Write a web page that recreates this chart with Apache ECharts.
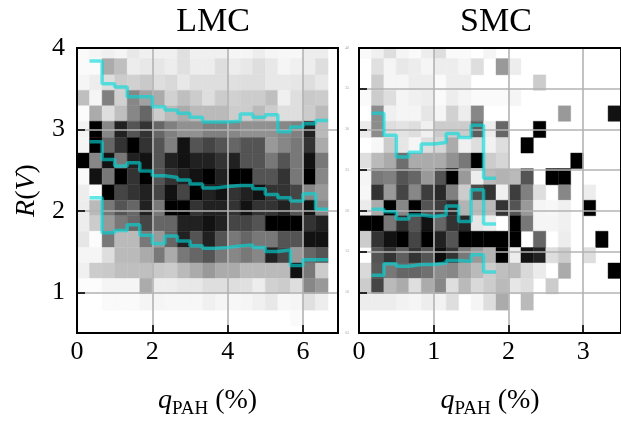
<!DOCTYPE html>
<html>
<head>
<meta charset="utf-8">
<script src="https://cdn.jsdelivr.net/npm/echarts@6/dist/echarts.min.js"></script>
<style>
  html, body { margin: 0; padding: 0; background: #fff; }
  #chart { width: 621px; height: 424px; }
</style>
</head>
<body>
<div id="chart"></div>
<script>
// MARK: - Data

// R(V) bin edges, shared by both panels
const rvEdges = [0.59, 0.78, 0.98, 1.17, 1.36, 1.55, 1.75, 1.94, 2.13, 2.32,
                 2.52, 2.71, 2.90, 3.10, 3.29, 3.48, 3.67, 3.87, 4.06];

// q_PAH bin edges
const lmcQEdges = [0, 0.333, 0.667, 1, 1.333, 1.667, 2, 2.333, 2.667, 3, 3.333,
                   3.667, 4, 4.333, 4.667, 5, 5.333, 5.667, 6, 6.333, 6.667];
const smcQEdges = [0, 0.167, 0.333, 0.5, 0.667, 0.833, 1, 1.167, 1.333, 1.5, 1.667,
                   1.833, 2, 2.167, 2.333, 2.5, 2.667, 2.833, 3, 3.167, 3.333, 3.5];

// normalised density (0 = white, 10 = black), top row first
const lmcDensity = [
    [0.2, 0.4, 0.6, 0.4, 0.9, 0.6, 0.6, 0.6, 1.2, 0.6, 0.6, 0.6, 0.4, 0.4, 0.7, 0.4, 0.3, 0.3, 0.7, 0.7],
    [0.2, 0.2, 3.3, 2.5, 0.7, 0.9, 1, 0.7, 1.2, 0.7, 0.7, 1.3, 0.7, 0.9, 1.3, 0.9, 0.4, 0.6, 0.7, 1.3],
    [0.4, 0.7, 1.3, 2, 1.8, 2.1, 1.3, 1.5, 0.9, 1.3, 1.3, 1.3, 1.2, 1.3, 1.3, 0.9, 0.9, 1, 1.3, 0.9],
    [2.5, 0.4, 5, 1.8, 4.7, 3.7, 3.3, 1.8, 2.5, 2, 1.3, 2, 1.8, 2, 2, 2.5, 0.6, 1.3, 2.1, 2],
    [0.1, 3.3, 1.3, 2.5, 4.7, 6, 2, 2.7, 3.3, 2.7, 2.7, 2.7, 2, 2, 2.7, 2, 1.3, 1.3, 2, 2.7],
    [0.5, 10, 4.7, 8.7, 6.7, 8, 6, 5, 4.3, 4.3, 5, 5, 4.7, 4.3, 4.3, 4.3, 4.7, 5, 8.7, 2.7],
    [0.4, 10, 6, 8, 10, 8, 6.7, 5, 9.3, 6.7, 7.3, 6.7, 6, 6.7, 6.7, 4, 4.7, 5.3, 8, 3.3],
    [10, 4.7, 9.3, 5.3, 8.7, 9.3, 6.7, 8.7, 9.3, 8.7, 8.7, 8, 8.7, 6.7, 6.7, 5.3, 6.7, 5.3, 9.3, 5.3],
    [0.2, 9.3, 5.3, 10, 8, 10, 6.7, 8, 8.7, 9.3, 10, 8.7, 10, 10, 6.7, 6.7, 8, 5.3, 10, 4.7],
    [0.7, 0.1, 10, 7.3, 8, 8.7, 7.3, 9.3, 7.3, 10, 8.7, 9.3, 8, 8.7, 9.3, 8, 8, 7.3, 4.7, 4],
    [0.7, 2.7, 5.3, 6.7, 6, 8.7, 5.3, 10, 10, 8, 8.7, 8.7, 8, 9.3, 8, 8, 8.7, 6.7, 9.3, 4.7],
    [0.7, 2, 4, 5.3, 6, 7.3, 6, 6, 8.7, 8.7, 9.3, 8.7, 7.3, 7.3, 6.7, 10, 10, 10, 8, 8.7],
    [1, 0.1, 5.3, 2.7, 2.7, 5.3, 4, 6, 8.7, 6.7, 8.7, 6.7, 5.3, 6, 5.3, 5.3, 6.7, 6.7, 9.3, 9.3],
    [0.4, 0.4, 1.3, 2.7, 2.7, 3.3, 5.3, 3.3, 5.3, 6, 6.7, 5.3, 4.7, 5.3, 4.7, 8.7, 7.3, 4, 6, 6.7],
    [0.6, 2, 2.1, 2.5, 2.5, 2.5, 2.1, 2, 2.7, 3.3, 4, 3.3, 3.3, 2.7, 2.7, 2.7, 2.7, 9.3, 5.3, 2],
    [0.1, 0.1, 0.4, 0.4, 0.4, 3.3, 0.7, 0.7, 0.9, 0.9, 1.3, 1.3, 1.3, 1.2, 0.7, 1.8, 2, 1.3, 4.7, 4],
    [0, 0, 0.2, 0.2, 0.2, 0.4, 0.4, 0.3, 0.3, 0.3, 0.6, 0.4, 0.3, 0.4, 0.6, 0.9, 0.3, 0.4, 1.2, 0.7],
    [0, 0, 0, 0, 0, 0, 0, 0, 0, 0, 0, 0, 0, 0, 0, 0, 0, 0.2, 0, 0]
];

const smcDensity = [
    [0.2, 0.6, 1.3, 0.4, 0.2, 0.7, 1.3, 0.2, 0.2, 0, 0.4, 0, 0, 0, 0, 0, 0, 0, 0, 0, 0],
    [0, 1.2, 0.4, 0.9, 0.7, 0.4, 0.7, 0.7, 0.4, 1.3, 0, 4, 0.7, 0, 0, 0, 0, 0, 0, 0, 0],
    [0, 2, 0.4, 0.4, 0.7, 0.7, 0.2, 0.7, 0.7, 0, 0, 0, 0, 0, 2, 0, 0, 0, 0, 0, 0],
    [0.2, 2, 1.3, 0.4, 0.6, 0.7, 0.2, 0.7, 0.4, 0.2, 0.2, 0.2, 0.4, 0, 0, 0, 0, 0, 0, 0, 0],
    [0, 4.5, 0.6, 0.4, 0.4, 1, 0.4, 1.8, 0.7, 4.7, 0, 0, 0, 0, 0, 0, 4, 0, 0, 0, 9.3],
    [0.8, 4.5, 1.3, 1.1, 1.3, 0.6, 2, 2, 2, 6.3, 0.7, 6, 0, 0, 10, 0, 0, 0, 0, 0, 0],
    [0, 0.3, 2, 1, 0.4, 1.3, 1.6, 3.3, 0.6, 1.3, 0.5, 1.3, 0, 10, 0, 0, 0, 0, 0, 0, 0],
    [1.3, 2.7, 3.3, 5.7, 3.3, 3.3, 3.3, 4.3, 5.3, 10, 2, 1.6, 0, 0, 0, 0, 0, 10, 0, 0, 0],
    [0.4, 5.3, 5, 6.7, 6, 4, 6.7, 10, 4, 0.7, 2.7, 3, 2.7, 6.7, 0, 10, 10, 0, 0, 0, 0],
    [0.3, 8, 4, 7.3, 4.7, 7.6, 8.4, 5, 2, 7, 8, 0.6, 7.6, 5, 1.3, 0, 4.7, 0, 0.7, 0, 0],
    [0.8, 3.3, 10, 4.7, 10, 6.7, 7.6, 8.4, 3, 2.7, 2.7, 8, 6.7, 4, 0.4, 0.3, 0.6, 0, 10, 0, 0],
    [10, 10, 5.3, 8.2, 6.7, 9.3, 6, 8, 8.4, 1, 0.7, 0, 10, 5.3, 0.4, 0.4, 0.6, 0, 0, 0, 0],
    [2, 8, 9.3, 10, 7.3, 10, 8.7, 6.7, 10, 10, 10, 10, 10, 0, 6, 0, 0.7, 0, 0, 10, 0],
    [0, 6.7, 8, 6.3, 8, 6.7, 9.5, 8, 5.3, 4, 3, 10, 0.7, 9.3, 8.7, 1.3, 2, 0, 1.3, 0, 0],
    [1.5, 6.5, 5.3, 6, 6, 5.6, 4.5, 4.7, 3.5, 2.7, 2, 2.5, 2.7, 1.5, 0.8, 0, 3.3, 0, 0, 0, 10],
    [2, 7.3, 2.7, 3.3, 1.3, 3.3, 4.7, 1.3, 2.7, 1.5, 2, 2.7, 1, 1.3, 0, 2, 0, 0, 0, 0, 0],
    [0.7, 0.7, 0.7, 0.5, 0.4, 0.7, 0.5, 1.3, 0, 0.4, 1.3, 3.3, 0, 2.7, 0, 0, 0, 0, 0, 0, 0],
    [0, 0, 0, 0, 0, 0, 0, 0, 0, 0, 0, 0, 0, 0, 0, 0, 0, 0, 0, 0, 0]
];

// running percentiles of R(V) per q_PAH bin (first bin with a value, then one per bin)
const lmcFirstBin = 1;
const lmcUpper  = [3.84, 3.56, 3.52, 3.40, 3.40, 3.28, 3.24, 3.20, 3.15, 3.09,
                   3.09, 3.10, 3.19, 3.15, 3.18, 2.97, 3.03, 3.07, 3.11];
const lmcMedian = [2.85, 2.63, 2.55, 2.59, 2.49, 2.43, 2.41, 2.38, 2.33, 2.28,
                   2.30, 2.31, 2.31, 2.27, 2.20, 2.16, 2.12, 2.21, 2.02];
const lmcLower  = [2.16, 1.73, 1.76, 1.83, 1.70, 1.60, 1.69, 1.63, 1.57, 1.54,
                   1.55, 1.57, 1.58, 1.55, 1.50, 1.52, 1.33, 1.40, 1.40];

const smcFirstBin = 1;
const smcUpper  = [3.20, 2.93, 2.66, 2.72, 2.82, 2.84, 2.95, 2.90, 3.05, 2.40];
const smcMedian = [2.02, 1.99, 1.90, 1.95, 1.93, 1.95, 2.06, 1.87, 2.26, 1.84];
const smcLower  = [1.21, 1.35, 1.32, 1.34, 1.34, 1.36, 1.39, 1.38, 1.46, 1.25];

const lmcYTicks = [1, 2, 3, 4];


// MARK: - Helpers

const serif = "'Liberation Serif', 'DejaVu Serif', serif";
const lineColor = 'rgba(0, 220, 220, 0.62)';
const gridGray = '#b3b3b3';

function cellData(density, qEdges) {
    let out = [];
    let nRows = density.length;
    density.forEach((row, i) => {
        let k = nRows - 1 - i;
        row.forEach((v, c) => {
            if (v > 0) {
                out.push([qEdges[c], qEdges[c + 1], rvEdges[k], rvEdges[k + 1], v]);
            }
        });
    });
    return out;
}

function stepPoints(edges, first, values) {
    let pts = values.map((v, i) => [edges[first + i], v]);
    pts.push([edges[first + values.length], values[values.length - 1]]);
    return pts;
}

function renderCell(params, api) {
    let a = api.coord([api.value(0), api.value(3)]);
    let b = api.coord([api.value(1), api.value(2)]);
    let cs = params.coordSys;
    let shape = echarts.graphic.clipRectByRect(
        {x: a[0], y: a[1], width: b[0] - a[0], height: b[1] - a[1]},
        {x: cs.x, y: cs.y, width: cs.width, height: cs.height});
    if (!shape) {
        return;
    }
    let color = api.visual('color');
    return {
        type: 'rect',
        shape: shape,
        style: {fill: color, stroke: color, lineWidth: 0.4}
    };
}

function cellSeries(index, density, qEdges) {
    return {
        type: 'custom',
        xAxisIndex: index * 2,
        yAxisIndex: index * 2,
        renderItem: renderCell,
        encode: {x: [0, 1], y: [2, 3]},
        silent: true,
        z: 2,
        data: cellData(density, qEdges)
    };
}

function stepSeries(index, edges, first, values) {
    return {
        type: 'line',
        xAxisIndex: index * 2,
        yAxisIndex: index * 2,
        step: 'end',
        symbol: 'none',
        silent: true,
        z: 12,
        lineStyle: {color: lineColor, width: 3.5},
        data: stepPoints(edges, first, values)
    };
}

const qName = '{q|q}{s|PAH}{n| (%)}';
const qRich = {
    q: {fontFamily: serif, fontStyle: 'italic', fontSize: 28, lineHeight: 36},
    s: {fontFamily: serif, fontSize: 19, lineHeight: 15, verticalAlign: 'bottom'},
    n: {fontFamily: serif, fontSize: 28, lineHeight: 36}
};

function bottomAxis(gridIndex, max) {
    return {
        type: 'value',
        gridIndex: gridIndex,
        position: 'bottom',
        min: 0,
        max: max,
        interval: gridIndex === 0 ? 2 : 1,
        z: 9,
        axisLine: {show: false},
        axisTick: {inside: true, length: 8, lineStyle: {color: '#000', width: 1.6}},
        axisLabel: {
            fontFamily: serif, fontSize: 26, color: '#000', margin: 6,
            showMaxLabel: false,
            formatter: v => String(Math.round(v))
        },
        splitLine: {show: true, lineStyle: {color: gridGray, width: 1.6}},
        name: qName,
        nameLocation: 'middle',
        nameGap: 50,
        nameTextStyle: {color: '#000', rich: qRich}
    };
}

function topAxis(gridIndex, max) {
    return {
        type: 'value', gridIndex: gridIndex, position: 'top', min: 0, max: max,
        axisLine: {show: false}, axisTick: {show: false},
        axisLabel: {show: false}, splitLine: {show: false}
    };
}


// MARK: - Chart

let chart = echarts.init(document.getElementById('chart'), null, {renderer: 'canvas'});

let option = {
    backgroundColor: '#fff',
    animation: false,
    title: [
        {text: 'LMC', left: 208, top: 0, textAlign: 'center',
            textStyle: {fontFamily: serif, fontSize: 34, fontWeight: 'normal', color: '#000'}},
        {text: 'SMC', left: 491, top: 0, textAlign: 'center',
            textStyle: {fontFamily: serif, fontSize: 34, fontWeight: 'normal', color: '#000'}}
    ],
    grid: [
        {left: 77, top: 48, width: 261, height: 292, show: true,
            borderColor: '#000', borderWidth: 2, z: 10},
        {left: 359, top: 48, width: 264, height: 292, show: true,
            borderColor: '#000', borderWidth: 2, z: 10}
    ],
    visualMap: {
        type: 'continuous',
        show: false,
        seriesIndex: [0, 1],
        dimension: 4,
        min: 0,
        max: 10,
        inRange: {color: ['#ffffff', '#000000']}
    },
    xAxis: [
        bottomAxis(0, 6.93), topAxis(0, 6.93),
        bottomAxis(1, 3.506), topAxis(1, 3.506)
    ],
    yAxis: [
        {
            type: 'value', gridIndex: 0, min: 0.5, max: 4, interval: 0.5, z: 9,
            axisLine: {show: false},
            axisTick: {inside: true, length: 8, customValues: lmcYTicks,
                lineStyle: {color: '#000', width: 1.6}},
            axisLabel: {fontFamily: serif, fontSize: 26, color: '#000', margin: 12,
                customValues: lmcYTicks, formatter: v => String(Math.round(v))},
            splitLine: {show: false},
            name: '{i|R}{n|(}{i|V}{n|)}',
            nameLocation: 'middle',
            nameRotate: 90,
            nameGap: 36,
            nameTextStyle: {color: '#000', rich: {
                i: {fontFamily: serif, fontStyle: 'italic', fontSize: 28},
                n: {fontFamily: serif, fontSize: 28}
            }}
        },
        {type: 'value', gridIndex: 0, position: 'right', min: 0.5, max: 4,
            axisLine: {show: false}, axisTick: {show: false},
            axisLabel: {show: false}, splitLine: {show: false}},
        {
            type: 'value', gridIndex: 1, min: 0.5, max: 4, interval: 0.5, z: 9,
            axisLine: {show: false},
            axisTick: {inside: true, length: 8, lineStyle: {color: '#000', width: 1.6}},
            axisLabel: {fontFamily: serif, fontSize: 3, color: '#888', margin: 10,
                formatter: v => v.toFixed(1)},
            splitLine: {show: true, lineStyle: {color: gridGray, width: 1.6}}
        },
        {type: 'value', gridIndex: 1, position: 'right', min: 0.5, max: 4,
            axisLine: {show: false}, axisTick: {show: false},
            axisLabel: {show: false}, splitLine: {show: false}}
    ],
    series: [
        cellSeries(0, lmcDensity, lmcQEdges),
        cellSeries(1, smcDensity, smcQEdges),
        {
            // horizontal grid lines of the LMC panel
            type: 'line',
            xAxisIndex: 0,
            yAxisIndex: 0,
            data: [],
            silent: true,
            z: 9,
            markLine: {
                silent: true,
                symbol: 'none',
                label: {show: false},
                lineStyle: {color: gridGray, width: 1.6, type: 'solid'},
                data: [{yAxis: 1}, {yAxis: 2}, {yAxis: 3}]
            }
        },
        stepSeries(0, lmcQEdges, lmcFirstBin, lmcUpper),
        stepSeries(0, lmcQEdges, lmcFirstBin, lmcMedian),
        stepSeries(0, lmcQEdges, lmcFirstBin, lmcLower),
        stepSeries(1, smcQEdges, smcFirstBin, smcUpper),
        stepSeries(1, smcQEdges, smcFirstBin, smcMedian),
        stepSeries(1, smcQEdges, smcFirstBin, smcLower)
    ]
};

chart.setOption(option);
</script>
</body>
</html>
